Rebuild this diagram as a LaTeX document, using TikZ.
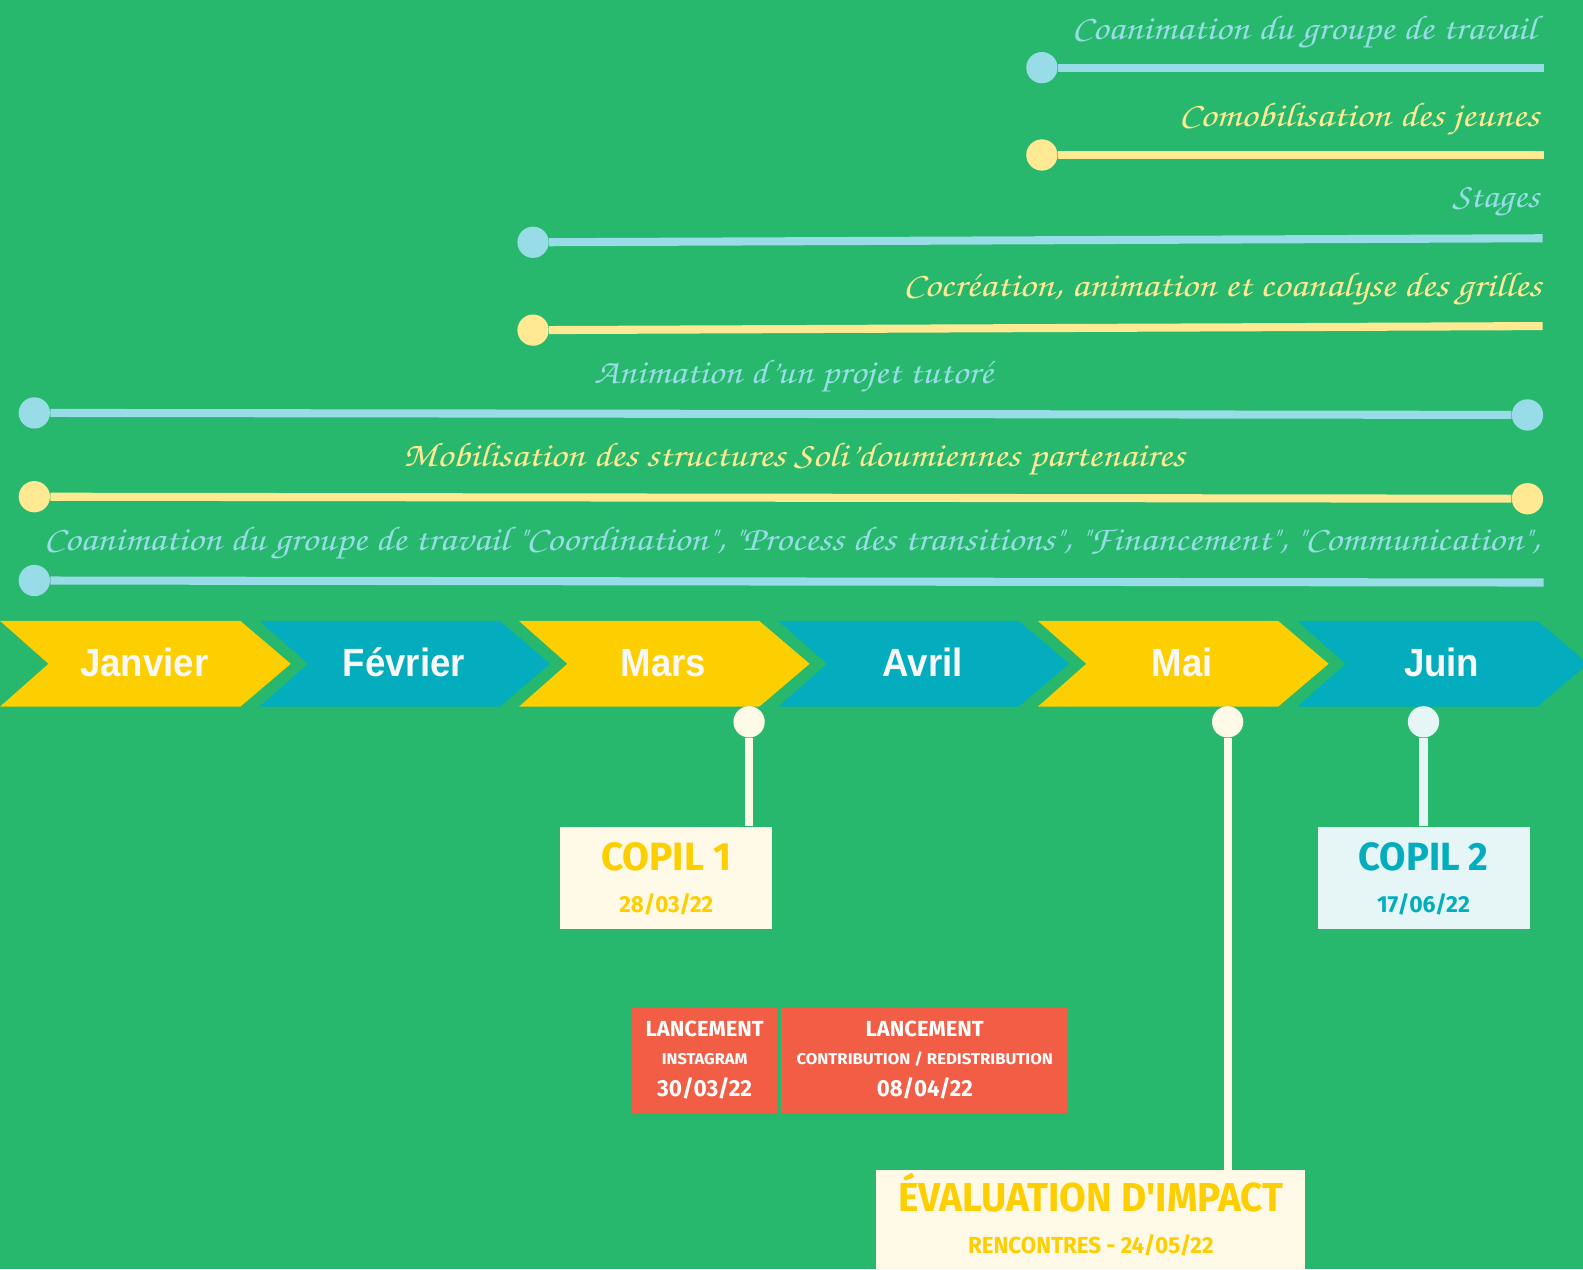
\documentclass[tikz,border=0pt]{standalone}
\usepackage[T1]{fontenc}
\usepackage{fontspec}
\usepackage{graphicx}
\newfontfamily\monthf{Liberation Sans}
\newfontfamily\boxf{Fira Sans}
\newcommand\scriptf{\fontencoding{T1}\fontfamily{pzc}\fontseries{m}\fontshape{it}\selectfont}
\newcommand\fitw[2]{\resizebox{#1}{\height}{#2}}
\definecolor{bg}{HTML}{27B86D}
\definecolor{lblue}{HTML}{97DCE6}
\definecolor{lyel}{HTML}{FFE993}
\definecolor{myel}{HTML}{FDCE00}
\definecolor{mteal}{HTML}{03ADBD}
\definecolor{cream}{HTML}{FFF9E8}
\definecolor{lcyan}{HTML}{E6F6F7}
\definecolor{mred}{HTML}{F25E45}
\definecolor{mwhite}{HTML}{F8F8F8}
\tikzset{
  stext/.style={text=#1,inner sep=0pt,font=\fontsize{17pt}{20pt}\selectfont\scriptf},
  tdot/.style={circle,fill=#1,minimum size=15.5pt,inner sep=0pt},
  tline/.style={draw=#1,line width=4pt},
  month/.style={text=mwhite,inner sep=0pt,anchor=base,font=\monthf\bfseries\fontsize{19.5pt}{22pt}\selectfont},
  card/.style={fill=#1,inner sep=0pt},
  btext/.style={text=#1,inner sep=0pt,anchor=base},
  stem/.style={draw=#1,line width=4pt},
}
\begin{document}
\begin{tikzpicture}[x=0.5pt,y=-0.5pt]
\useasboundingbox (0,0) rectangle (1568,1257);
\fill[bg] (0,0) rectangle (1568,1257);

% ---------- timelines ----------
\node[tdot=lblue] (d1) at (1032,67) {};
\coordinate (e1) at (1529,67);
\draw[tline=lblue] (d1) -- (e1);
\node[stext=lblue,anchor=base east] (t1) at (1522,39) {\fitw{230pt}{Coanimation du groupe de travail}};

\node[tdot=lyel] (d2) at (1032,153.5) {};
\coordinate (e2) at (1529,153.5);
\draw[tline=lyel] (d2) -- (e2);
\node[stext=lyel,anchor=base east] (t2) at (1525,125) {\fitw{178.5pt}{Comobilisation des jeunes}};

\node[tdot=lblue] (d3) at (528,240) {};
\coordinate (e3) at (1528,236);
\draw[tline=lblue] (d3) -- (e3);
\node[stext=lblue,anchor=base east] (t3) at (1525,206) {\fitw{43pt}{Stages}};

\node[tdot=lyel] (d4) at (528,327) {};
\coordinate (e4) at (1528,323);
\draw[tline=lyel] (d4) -- (e4);
\node[stext=lyel,anchor=base east] (t4) at (1527,294) {\fitw{316pt}{Cocréation, animation et coanalyse des grilles}};

\node[tdot=lblue] (d5) at (34,409) {};
\node[tdot=lblue] (f5) at (1513,411) {};
\draw[tline=lblue] (d5) -- (f5);
\node[stext=lblue,anchor=base west] (t5) at (588,380) {\fitw{197.5pt}{Animation d'un projet tutoré}};

\node[tdot=lyel] (d6) at (34,492) {};
\node[tdot=lyel] (f6) at (1513,494) {};
\draw[tline=lyel] (d6) -- (f6);
\node[stext=lyel,anchor=base west] (t6) at (399,462) {\fitw{387pt}{Mobilisation des structures Soli'doumiennes partenaires}};

\node[tdot=lblue] (d7) at (34,575) {};
\coordinate (e7) at (1529,577);
\draw[tline=lblue] (d7) -- (e7);
\node[stext=lblue,anchor=base west] (t7) at (43,545) {\fitw{741pt}{Coanimation du groupe de travail "Coordination", "Process des transitions", "Financement", "Communication",}};

% ---------- months ----------
\foreach \i/\m/\c in {0/Janvier/myel,1/Février/mteal,2/Mars/myel,3/Avril/mteal,4/Mai/myel,5/Juin/mteal}{
  \fill[\c] ({257*\i},615) -- ++(238,0) -- ++(50,42.5) -- ++(-50,42.5) -- ++(-238,0) -- ++(48,-42.5) -- cycle;
  \node[month] (m\i) at ({257*\i+143},670.5) {\scalebox{0.93}[1]{\m}};
}

% ---------- COPIL 1 ----------
\node[card=cream,minimum width=105pt,minimum height=50.5pt] (c1) at (660,869.5) {};
\node[tdot=cream] (p1) at (742,715) {};
\draw[stem=cream] (p1) -- (p1 |- c1.north);
\node[btext=myel,font=\boxf\bfseries\fontsize{19.5pt}{22pt}\selectfont] (c1a) at (660,862) {\fitw{64.5pt}{COPIL 1}};
\node[btext=myel,font=\boxf\bfseries\fontsize{11.5pt}{14pt}\selectfont] (c1b) at (660,904) {\fitw{46.5pt}{28/03/22}};

% ---------- COPIL 2 ----------
\node[card=lcyan,minimum width=105pt,minimum height=50.5pt] (c2) at (1410,869.5) {};
\node[tdot=lcyan] (p2) at (1410,715) {};
\draw[stem=lcyan] (p2) -- (c2.north);
\node[btext=mteal,font=\boxf\bfseries\fontsize{19.5pt}{22pt}\selectfont] (c2a) at (1410,862.5) {\fitw{64.5pt}{COPIL 2}};
\node[btext=mteal,font=\boxf\bfseries\fontsize{11.5pt}{14pt}\selectfont] (c2b) at (1410,904) {\fitw{46pt}{17/06/22}};

% ---------- Evaluation ----------
\node[card=cream,minimum width=212.5pt,minimum height=49pt] (c3) at (1080.5,1208) {};
\node[tdot=cream] (p3) at (1216,715) {};
\draw[stem=cream] (p3) -- (p3 |- c3.north);
\node[btext=myel,font=\boxf\bfseries\fontsize{20pt}{24pt}\selectfont] (c3a) at (1080.5,1200) {\fitw{191pt}{ÉVALUATION D'IMPACT}};
\node[btext=myel,font=\boxf\bfseries\fontsize{11.5pt}{14pt}\selectfont] (c3b) at (1080.5,1242) {\fitw{121.5pt}{RENCONTRES - 24/05/22}};

% ---------- Lancements ----------
\node[card=mred,minimum width=72pt,minimum height=52pt] (l1) at (698,1050) {};
\node[btext=white,font=\boxf\bfseries\fontsize{10.8pt}{13pt}\selectfont] (l1a) at (698,1027) {\fitw{58.5pt}{LANCEMENT}};
\node[btext=white,font=\boxf\bfseries\fontsize{7.7pt}{9pt}\selectfont] (l1b) at (698,1054) {\fitw{42.5pt}{INSTAGRAM}};
\node[btext=white,font=\boxf\bfseries\fontsize{11.5pt}{14pt}\selectfont] (l1c) at (698,1086) {\fitw{47pt}{30/03/22}};

\node[card=mred,minimum width=142pt,minimum height=52pt] (l2) at (916,1050) {};
\node[btext=white,font=\boxf\bfseries\fontsize{10.8pt}{13pt}\selectfont] (l2a) at (916,1027) {\fitw{58.5pt}{LANCEMENT}};
\node[btext=white,font=\boxf\bfseries\fontsize{7.7pt}{9pt}\selectfont] (l2b) at (916,1054) {\fitw{127pt}{CONTRIBUTION / REDISTRIBUTION}};
\node[btext=white,font=\boxf\bfseries\fontsize{11.5pt}{14pt}\selectfont] (l2c) at (916,1086) {\fitw{47.5pt}{08/04/22}};
\end{tikzpicture}
\end{document}
